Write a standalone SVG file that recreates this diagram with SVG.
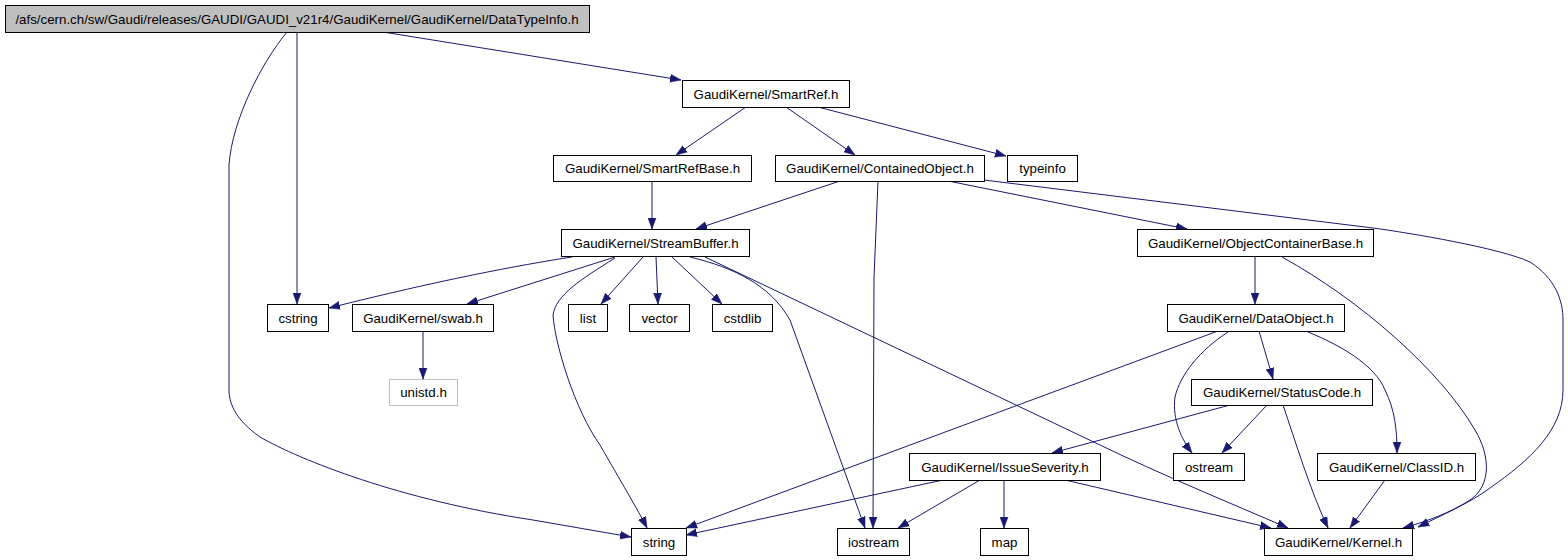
<svg xmlns="http://www.w3.org/2000/svg" width="1568" height="560" viewBox="0 0 1568 560">
<style>
.n rect{fill:#ffffff;stroke:#000000;stroke-width:1}
.n text{font-family:"Liberation Sans",Arial,sans-serif;font-size:13.3px;fill:#000000;text-anchor:middle}
#title rect{fill:#bfbfbf}
#unistd rect{stroke:#bfbfbf}
.e path{fill:none;stroke:#191970;stroke-width:1;marker-end:url(#ah)}
</style>
<defs>
<marker id="ah" markerUnits="userSpaceOnUse" markerWidth="11" markerHeight="9" viewBox="0 0 11 8" refX="11" refY="4" orient="auto">
<path d="M0,0 L11,4 L0,8 z" fill="#191970" stroke="#191970" stroke-width="0.5"/>
</marker>
</defs>
<rect width="1568" height="560" fill="#ffffff"/>
<g id="edges" class="e">
<path d="M383,32 L681,80"/>
<path d="M297,32 L297,304"/>
<path d="M287,32 C262,62 232,120 229,165 L229,392 C230,405 236,420 260,437 C300,460 400,500 533,520 L631,537"/>
<path d="M746,107 L676,155"/>
<path d="M786,107 L855,155"/>
<path d="M818,107 L1006,156"/>
<path d="M652,181 L652,229"/>
<path d="M840,181 L696,229"/>
<path d="M948,181 L1187,229"/>
<path d="M878,181 L874,278 L873,528"/>
<path d="M984,180 L1373,228 C1410,233 1500,248 1530,262 C1555,278 1563,300 1563,320 L1563,390 C1563,430 1530,460 1490,488 C1470,503 1440,516 1418,527"/>
<path d="M572,257 C520,265 440,280 329,308"/>
<path d="M615,257 L467,304"/>
<path d="M615,258 C580,280 556,295 553,315 C555,345 575,410 600,445 C620,480 638,510 647,528"/>
<path d="M643,257 L601,304"/>
<path d="M656,257 L658,304"/>
<path d="M672,257 L722,304"/>
<path d="M690,257 C735,268 770,285 790,320 L865,528"/>
<path d="M705,257 L1100,445 C1160,474 1230,503 1288,528"/>
<path d="M423,331 L423,379"/>
<path d="M1255,256 L1255,304"/>
<path d="M1282,257 C1360,300 1440,370 1475,430 C1490,455 1492,485 1470,500 C1450,513 1425,522 1403,528"/>
<path d="M1218,331 L686,528"/>
<path d="M1228,332 C1200,350 1180,375 1175,397 C1172,420 1182,440 1192,453"/>
<path d="M1259,331 L1273,379"/>
<path d="M1308,332 C1340,345 1375,365 1385,390 C1395,410 1397,430 1397,453"/>
<path d="M1230,405 L1052,453"/>
<path d="M1267,405 L1222,453"/>
<path d="M1283,405 C1295,440 1310,490 1328,528"/>
<path d="M1385,480 L1350,528"/>
<path d="M943,480 L686,535"/>
<path d="M980,480 L898,528"/>
<path d="M1004,480 L1004,528"/>
<path d="M1065,480 L1271,528"/>
</g>
<g id="title" class="n"><rect x="5.5" y="5.5" width="584" height="27"/><text x="297" y="23.5">/afs/cern.ch/sw/Gaudi/releases/GAUDI/GAUDI_v21r4/GaudiKernel/GaudiKernel/DataTypeInfo.h</text></g>
<g id="smartref" class="n"><rect x="682.5" y="80.5" width="167" height="27"/><text x="766" y="98.5">GaudiKernel/SmartRef.h</text></g>
<g id="smartrefbase" class="n"><rect x="553.5" y="155.5" width="198" height="26"/><text x="652.5" y="173">GaudiKernel/SmartRefBase.h</text></g>
<g id="containedobject" class="n"><rect x="775.5" y="155.5" width="209" height="26"/><text x="880" y="173">GaudiKernel/ContainedObject.h</text></g>
<g id="typeinfo" class="n"><rect x="1007.5" y="155.5" width="70" height="26"/><text x="1042.5" y="173">typeinfo</text></g>
<g id="streambuffer" class="n"><rect x="561.5" y="229.5" width="188" height="27"/><text x="655.5" y="247.5">GaudiKernel/StreamBuffer.h</text></g>
<g id="objectcontainerbase" class="n"><rect x="1137.5" y="229.5" width="236" height="27"/><text x="1255.5" y="247.5">GaudiKernel/ObjectContainerBase.h</text></g>
<g id="cstring" class="n"><rect x="267.5" y="304.5" width="61" height="27"/><text x="298" y="322.5">cstring</text></g>
<g id="swab" class="n"><rect x="352.5" y="304.5" width="141" height="27"/><text x="423" y="322.5">GaudiKernel/swab.h</text></g>
<g id="unistd" class="n"><rect x="389.5" y="379.5" width="68" height="26"/><text x="423.5" y="397">unistd.h</text></g>
<g id="list" class="n"><rect x="568.5" y="304.5" width="39" height="27"/><text x="588" y="322.5">list</text></g>
<g id="vector" class="n"><rect x="629.5" y="304.5" width="60" height="27"/><text x="659.5" y="322.5">vector</text></g>
<g id="cstdlib" class="n"><rect x="712.5" y="304.5" width="60" height="27"/><text x="742.5" y="322.5">cstdlib</text></g>
<g id="dataobject" class="n"><rect x="1167.5" y="304.5" width="177" height="27"/><text x="1256" y="322.5">GaudiKernel/DataObject.h</text></g>
<g id="statuscode" class="n"><rect x="1191.5" y="379.5" width="181" height="26"/><text x="1282" y="397">GaudiKernel/StatusCode.h</text></g>
<g id="issueseverity" class="n"><rect x="909.5" y="453.5" width="191" height="27"/><text x="1005" y="471.5">GaudiKernel/IssueSeverity.h</text></g>
<g id="ostream" class="n"><rect x="1173.5" y="453.5" width="71" height="27"/><text x="1209" y="471.5">ostream</text></g>
<g id="classid" class="n"><rect x="1317.5" y="453.5" width="158" height="27"/><text x="1396.5" y="471.5">GaudiKernel/ClassID.h</text></g>
<g id="string" class="n"><rect x="631.5" y="528.5" width="55" height="27"/><text x="659" y="546.5">string</text></g>
<g id="iostream" class="n"><rect x="837.5" y="528.5" width="72" height="27"/><text x="873.5" y="546.5">iostream</text></g>
<g id="map" class="n"><rect x="980.5" y="528.5" width="48" height="27"/><text x="1004.5" y="546.5">map</text></g>
<g id="kernel" class="n"><rect x="1264.5" y="528.5" width="148" height="27"/><text x="1338.5" y="546.5">GaudiKernel/Kernel.h</text></g>
</svg>
